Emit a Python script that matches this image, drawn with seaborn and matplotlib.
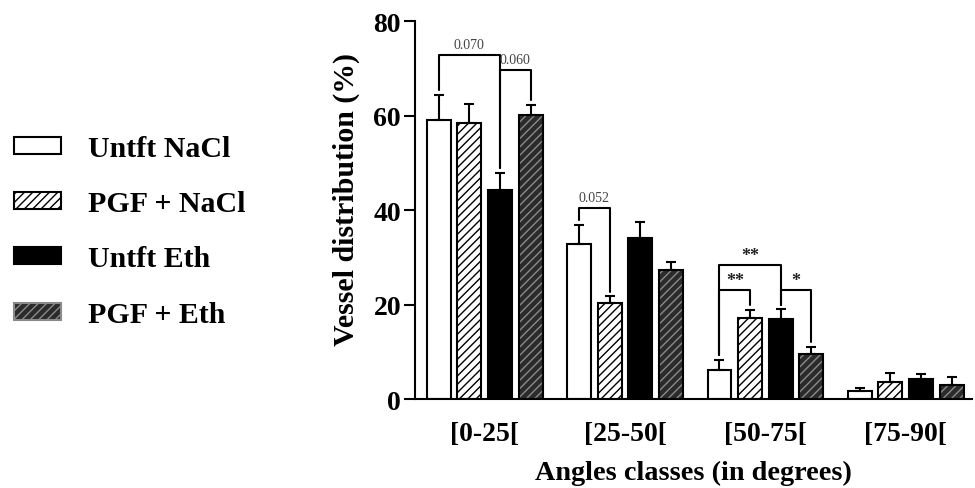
import numpy as np
import pandas as pd
import matplotlib
matplotlib.use("Agg")
import matplotlib.pyplot as plt
import seaborn as sns
from matplotlib.patches import Patch, Rectangle

# data
classes = ["[0-25[", "[25-50[", "[50-75[", "[75-90["]
groups = ["Untft NaCl", "PGF + NaCl", "Untft Eth", "PGF + Eth"]

untft_nacl = [59.0, 32.8, 6.1, 1.7]
untft_nacl_err = [5.3, 4.0, 2.2, 0.7]
pgf_nacl = [58.4, 20.3, 17.1, 3.7]
pgf_nacl_err = [4.0, 1.4, 1.7, 1.9]
untft_eth = [44.2, 34.1, 16.9, 4.3]
untft_eth_err = [3.6, 3.3, 2.1, 1.0]
pgf_eth = [60.1, 27.3, 9.5, 2.9]
pgf_eth_err = [2.1, 1.8, 1.6, 1.8]

# (class index, group a, group b, bracket height, label)
comparisons = [
    (0, 0, 2, 72.9, "0.070"),
    (0, 2, 3, 69.7, "0.060"),
    (1, 0, 1, 40.4, "0.052"),
    (2, 0, 2, 28.4, "**"),
    (2, 0, 1, 23.1, "**"),
    (2, 2, 3, 23.1, "*"),
]

means = [untft_nacl, pgf_nacl, untft_eth, pgf_eth]
errs = [untft_nacl_err, pgf_nacl_err, untft_eth_err, pgf_eth_err]

df = pd.DataFrame({
    "angle": np.tile(classes, len(groups)),
    "group": np.repeat(groups, len(classes)),
    "value": np.concatenate(means),
})

sns.set_style("ticks")
plt.rcParams["font.family"] = ["Liberation Serif", "DejaVu Serif"]
plt.rcParams["hatch.linewidth"] = 1.0
for k in ["text.color", "axes.labelcolor", "xtick.color", "ytick.color", "axes.edgecolor"]:
    plt.rcParams[k] = "black"

face = {"Untft NaCl": "white", "PGF + NaCl": "white", "Untft Eth": "black", "PGF + Eth": "#2b2b2b"}
hatch = {"Untft NaCl": "", "PGF + NaCl": "////", "Untft Eth": "", "PGF + Eth": "////"}
hatch_col = {"Untft NaCl": "black", "PGF + NaCl": "black", "Untft Eth": "black", "PGF + Eth": "#8a8a8a"}

fig = plt.figure(figsize=(9.75, 4.89), dpi=100)
ax = fig.add_axes([0.4256, 0.182, 0.571, 0.773])

sns.barplot(data=df, x="angle", y="value", hue="group", order=classes, hue_order=groups,
            palette=face, saturation=1, width=0.872, gap=0.22, errorbar=None,
            edgecolor="black", linewidth=1.5, legend=False, ax=ax)

centers = {}
tops = {}
for gi, (g, cont) in enumerate(zip(groups, ax.containers)):
    xs = []
    for ci, bar in enumerate(cont):
        bar.set_hatch(hatch[g])
        bar.set_edgecolor(hatch_col[g])
        if hatch_col[g] != "black":
            bar.set_linewidth(0)
            ax.add_patch(Rectangle((bar.get_x(), bar.get_y()), bar.get_width(), bar.get_height(),
                                   fill=False, edgecolor="black", linewidth=1.5, zorder=bar.get_zorder() + 0.1))
        xc = bar.get_x() + bar.get_width() / 2
        xs.append(xc)
        centers[(ci, gi)] = xc
        tops[(ci, gi)] = means[gi][ci] + errs[gi][ci]
    ax.errorbar(xs, means[gi], yerr=[np.zeros(len(xs)), errs[gi]], fmt="none",
                ecolor="black", elinewidth=1.5, capsize=3.6, capthick=1.5, zorder=1)

for ci, a, b, h, lab in comparisons:
    xa, xb = centers[(ci, a)], centers[(ci, b)]
    ya, yb = tops[(ci, a)] + 1.0, tops[(ci, b)] + 1.0
    ax.plot([xa, xa, xb, xb], [ya, h, h, yb], color="black", lw=1.5, clip_on=False)
    if "*" in lab:
        ax.text((xa + xb) / 2, h + 0.2, lab, ha="center", va="bottom", fontsize=13,
                fontweight="bold", color="#222222")
    else:
        ax.text((xa + xb) / 2, h + 0.8, lab, ha="center", va="bottom", fontsize=10,
                color="#444444")

ax.set_xlim(-0.497, 3.47)
ax.set_ylim(0, 80)
ax.set_yticks([0, 20, 40, 60, 80])
sns.despine(ax=ax)
for s in ["left", "bottom"]:
    ax.spines[s].set_linewidth(1.5)
ax.tick_params(axis="y", length=8, width=1.5, labelsize=20, pad=2)
ax.tick_params(axis="x", length=0, labelsize=20, pad=16)
for t in ax.get_xticklabels() + ax.get_yticklabels():
    t.set_fontweight("bold")
ax.set_xlabel("Angles classes (in degrees)", fontsize=20.3, fontweight="bold", labelpad=10)
ax.set_ylabel("Vessel distribution (%)", fontsize=21.5, fontweight="bold", labelpad=8)
ax.yaxis.set_label_coords(-0.098, 0.53)

handles = []
for g in groups:
    handles.append(Patch(facecolor=face[g], edgecolor=hatch_col[g],
                         hatch=hatch[g], linewidth=1.5, label=g))
leg = fig.legend(handles=handles, loc="center left", bbox_to_anchor=(0.014, 0.525), frameon=False,
                 prop={"family": "Liberation Serif", "weight": "bold", "size": 21.5},
                 handlelength=1.6, handleheight=0.5, handletextpad=0.9, labelspacing=0.95,
                 borderpad=0, borderaxespad=0)

fig.savefig("out.png", dpi=100)
